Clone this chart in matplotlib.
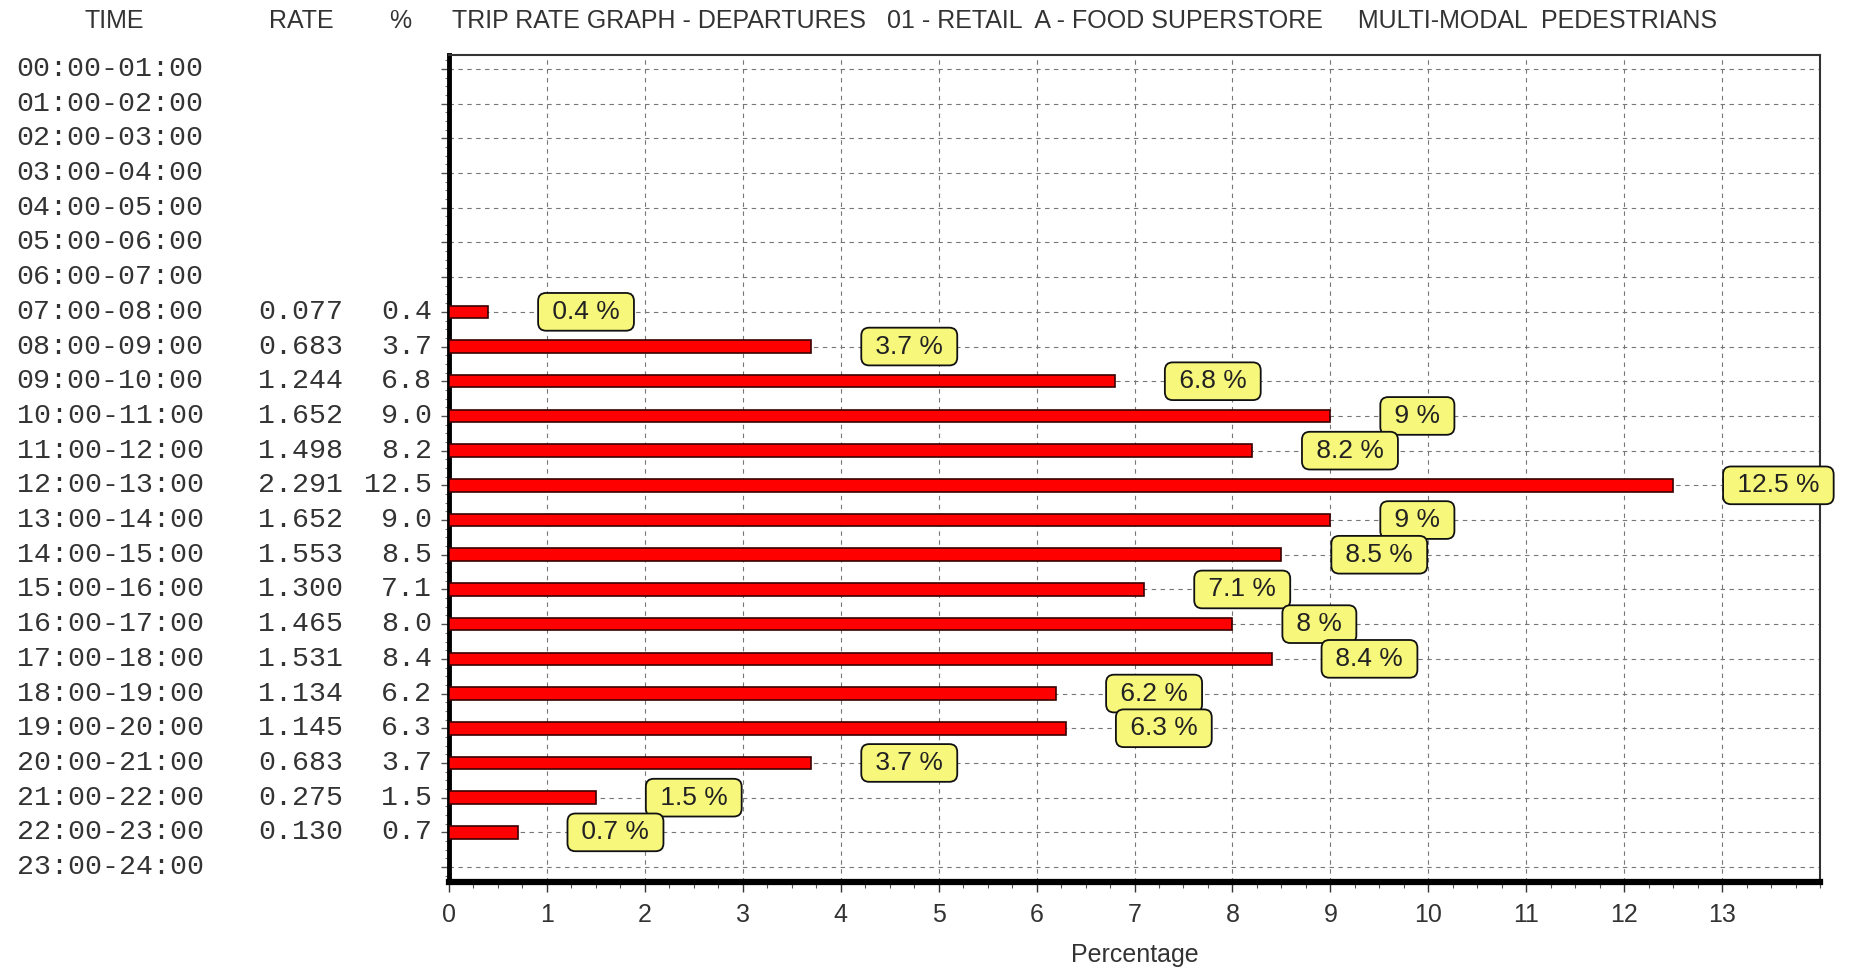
import matplotlib
matplotlib.use("Agg")
import matplotlib.pyplot as plt
import matplotlib.transforms as mtransforms
from matplotlib.ticker import MultipleLocator

times = ["00:00-01:00", "01:00-02:00", "02:00-03:00", "03:00-04:00", "04:00-05:00",
         "05:00-06:00", "06:00-07:00", "07:00-08:00", "08:00-09:00", "09:00-10:00",
         "10:00-11:00", "11:00-12:00", "12:00-13:00", "13:00-14:00", "14:00-15:00",
         "15:00-16:00", "16:00-17:00", "17:00-18:00", "18:00-19:00", "19:00-20:00",
         "20:00-21:00", "21:00-22:00", "22:00-23:00", "23:00-24:00"]
rates = [None] * 7 + [0.077, 0.683, 1.244, 1.652, 1.498, 2.291, 1.652, 1.553,
                      1.300, 1.465, 1.531, 1.134, 1.145, 0.683, 0.275, 0.130] + [None]
pcts = [None] * 7 + [0.4, 3.7, 6.8, 9.0, 8.2, 12.5, 9.0, 8.5,
                     7.1, 8.0, 8.4, 6.2, 6.3, 3.7, 1.5, 0.7] + [None]

title = ("TRIP RATE GRAPH - DEPARTURES   01 - RETAIL  A - FOOD SUPERSTORE"
         "     MULTI-MODAL  PEDESTRIANS")

sans = ["Liberation Sans", "DejaVu Sans"]
mono = ["Liberation Mono", "DejaVu Sans Mono"]

fig = plt.figure(figsize=(18.5, 9.69), dpi=100)
ax = fig.add_axes([0.2427, 0.0898, 0.9838 - 0.2427, 0.9432 - 0.0898])

rows = list(range(len(times)))
for i, p in enumerate(pcts):
    if p is None:
        continue
    ax.barh(i, p, height=0.36, color="#ff0000", edgecolor="#3a0000", linewidth=1.2, zorder=3)
    # value label in a yellow rounded box, offset to the right of the bar
    ax.text(p + 0.58, i, f" {p:g} % ", ha="left", va="center", fontsize=19,
            family=sans, color="#222222", zorder=4,
            bbox=dict(boxstyle="round,pad=0.26,rounding_size=0.3", fc="#f7f77c",
                      ec="#111111", lw=1.3))

ax.set_xlim(0, 14)
ax.set_ylim(23.43, -0.4)
ax.xaxis.set_minor_locator(MultipleLocator(0.25))
ax.set_xticks(range(0, 14))
ax.set_yticks(rows)
ax.set_yticklabels([])
ax.yaxis.set_minor_locator(MultipleLocator(0.25))
ax.tick_params(axis="x", which="major", length=7, width=1, labelsize=18, colors="#333333", pad=8)
ax.tick_params(axis="x", which="minor", length=4, width=0.8, colors="#555555")
ax.tick_params(axis="y", which="major", length=6, width=1, colors="#555555")
ax.tick_params(axis="y", which="minor", length=3, width=0.8, colors="#777777")
for lbl in ax.get_xticklabels():
    lbl.set_family(sans)

ax.grid(True, which="major", color="#777777", linestyle=(0, (4, 4)), linewidth=0.8, zorder=0)
ax.spines["left"].set_linewidth(3.5)
ax.spines["bottom"].set_linewidth(4.5)
ax.spines["top"].set_linewidth(1.5)
ax.spines["right"].set_linewidth(1.5)
ax.spines["top"].set_color("#333333")
ax.spines["right"].set_color("#333333")

ax.set_xlabel("Percentage", fontsize=18, family=sans, color="#333333", labelpad=12)

trans = mtransforms.blended_transform_factory(fig.transFigure, ax.transData)
for i, t in enumerate(times):
    fig.text(0.009, i, t, transform=trans, ha="left", va="center",
             fontsize=20.3, family=mono, color="#333333")
    if rates[i] is not None:
        fig.text(0.1854, i, f"{rates[i]:.3f}", transform=trans, ha="right", va="center",
                 fontsize=20.3, family=mono, color="#333333")
        fig.text(0.2335, i, f"{pcts[i]:.1f}", transform=trans, ha="right", va="center",
                 fontsize=20.3, family=mono, color="#333333")

hy = 1 - 21 / 969
fig.text(114 / 1850, hy, "TIME", ha="center", va="center", fontsize=18, family=sans, color="#333333")
fig.text(301 / 1850, hy, "RATE", ha="center", va="center", fontsize=18, family=sans, color="#333333")
fig.text(400 / 1850, hy, "%", ha="center", va="center", fontsize=18, family=sans, color="#333333")
fig.text(452 / 1850, hy, title, ha="left", va="center", fontsize=18, family=sans, color="#333333")

fig.savefig("out.png", dpi=100)
